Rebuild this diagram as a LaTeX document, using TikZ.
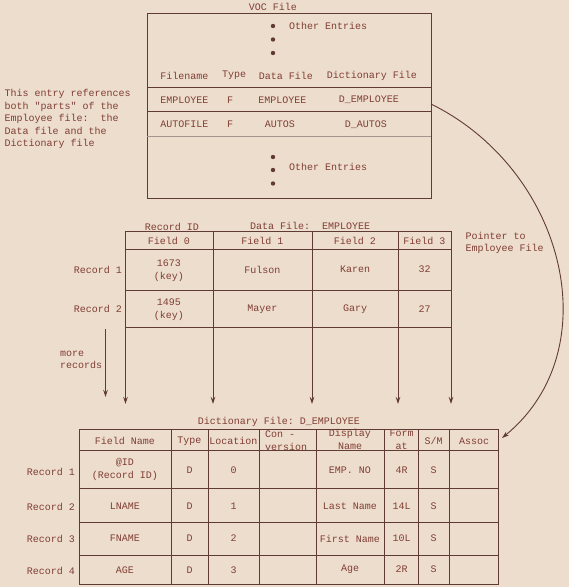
\documentclass[tikz,border=0pt]{standalone}
\usepackage{fontspec}
\setmonofont{Liberation Mono}
\usetikzlibrary{arrows.meta,positioning}
\definecolor{paper}{RGB}{237,221,205}
\definecolor{lineInk}{RGB}{96,58,52}
\definecolor{typeInk}{RGB}{128,62,52}

\begin{document}
\begin{tikzpicture}[x=1pt, y=-1pt,
  font=\ttfamily\fontsize{10}{12.5}\selectfont,
  txt/.style={text=typeInk, inner sep=1pt, align=center},
  rule/.style={draw=lineInk, line width=0.9pt},
  faint/.style={draw=lineInk!55, line width=0.8pt},
  dot/.style={circle, fill=lineInk, inner sep=0pt, minimum size=4.4pt},
  arr/.style={-{Stealth[length=7pt,width=4.5pt]}, draw=lineInk, line width=0.9pt}
]
\fill[paper] (0,0) rectangle (569,587);
\useasboundingbox (0,0) rectangle (569,587);

% VOC file
\node[txt] (vocTitle) at (273,7) {VOC File};
\draw[rule] (147,13) rectangle (431,198);
\draw[rule] (147,87) -- (431,87);
\draw[rule] (147,111) -- (431,111);
\draw[faint] (147,136) -- (431,136);
\node[dot] (dotA) at (273,26) {};
\node[dot] (dotB) at (273,39.5) {};
\node[dot] (dotC) at (273,53) {};
\node[txt, anchor=west] (otherTop) at (288,26) {Other Entries};
\node[txt] (hName) at (184.5,75.5) {Filename};
\node[txt] (hType) at (234,75.5) {Type};
\node[txt] (hData) at (286,75.5) {Data File};
\node[txt] (hDict) at (372,75.5) {Dictionary File};
\node[txt] (eName) at (184.5,100) {EMPLOYEE};
\node[txt] (eType) at (230,100) {F};
\node[txt] (eData) at (282.5,100) {EMPLOYEE};
\node[txt] (eDict) at (369,100) {D\_EMPLOYEE};
\node[txt] (aName) at (184.5,124.5) {AUTOFILE};
\node[txt] (aType) at (230,124.5) {F};
\node[txt] (aData) at (280,124.5) {AUTOS};
\node[txt] (aDict) at (366,124.5) {D\_AUTOS};
\node[dot] (dotD) at (273,157) {};
\node[dot] (dotE) at (273,170) {};
\node[dot] (dotF) at (273,183.5) {};
\node[txt, anchor=west] (otherBot) at (288,167) {Other Entries};

\node[txt, align=left, anchor=north west, inner sep=0pt] (note) at (4.5,89.5)
  {This entry references\\both "parts" of the\\Employee file:~~the\\Data file and the\\Dictionary file};

% data file
\node[txt] (recId) at (172,226.5) {Record ID};
\node[txt, anchor=west] (dataTitle) at (249,226) {Data File:~~EMPLOYEE};
\coordinate (c0) at (125.5,231);
\coordinate (c1) at (213,231);
\coordinate (c2) at (312,231);
\coordinate (c3) at (398,231);
\coordinate (c4) at (451,231);
\coordinate (t0) at (125.5,404);
\coordinate (t1) at (213,404);
\coordinate (t2) at (312,404);
\coordinate (t3) at (398,404);
\coordinate (t4) at (451,404);
\draw[rule] (c0) -- (c4);
\draw[rule] (125.5,249.5) -- (451,249.5);
\draw[rule] (125.5,290) -- (451,290);
\draw[rule] (125.5,327) -- (451,327);
\draw[arr] (c0) -- (t0);
\draw[arr] (c1) -- (t1);
\draw[arr] (c2) -- (t2);
\draw[arr] (c3) -- (t3);
\draw[arr] (c4) -- (t4);
\node[txt] (f0) at (169,241) {Field 0};
\node[txt] (f1) at (262.5,241) {Field 1};
\node[txt] (f2) at (355,241) {Field 2};
\node[txt] (f3) at (424.5,241) {Field 3};
\node[txt, anchor=east] (rec1) at (123,269.5) {Record 1};
\node[txt] (key1) at (169,270.5) {1673\\(key)};
\node[txt] (fulson) at (262.5,269.5) {Fulson};
\node[txt] (karen) at (355,269.5) {Karen};
\node[txt] (age1) at (424.5,269.5) {32};
\node[txt, anchor=east] (rec2) at (123,309) {Record 2};
\node[txt] (key2) at (169,309.5) {1495\\(key)};
\node[txt] (mayer) at (262.5,309) {Mayer};
\node[txt] (gary) at (355,309) {Gary};
\node[txt] (age2) at (424.5,309) {27};
\node[txt, align=left, anchor=north west] (ptrNote) at (464.5,231)
  {Pointer to\\Employee File};
\coordinate (moreTop) at (105.5,329);
\coordinate (moreTip) at (105.5,397);
\draw[arr] (moreTop) -- (moreTip);
\node[txt, align=left, anchor=west] (more) at (59,360) {more\\records};

% dictionary file
\node[txt] (dictTitle) at (279,421.5) {Dictionary File: D\_EMPLOYEE};
\draw[rule] (79.5,429) rectangle (498.5,584);
\foreach \yy in {450.5,488.5,522,555}
  \draw[rule] (79.5,\yy) -- (498.5,\yy);
\foreach \xx in {171,208.5,259,316,384.5,418.5,449.5}
  \draw[rule] (\xx,429) -- (\xx,584);
\node[txt] (dFn) at (125,441) {Field Name};
\node[txt] (dTy) at (189.5,441) {Type};
\node[txt, inner sep=0pt] (dLoc) at (233.5,441) {Location};
\node[txt, align=left, anchor=west] (dCon) at (264,440.5) {Con -\\version};
\node[txt] (dDn) at (350,439.5) {Display\\Name};
\node[txt] (dFm) at (401.5,439.5) {Form\\at};
\node[txt] (dSm) at (433.5,441) {S/M};
\node[txt] (dAs) at (474,441) {Assoc};

\node[txt, anchor=east] (drec1) at (76,471.5) {Record 1};
\node[txt] (id1) at (125,469.5) {@ID\\(Record ID)};
\node[txt] (ty1) at (189.5,470) {D};
\node[txt] (lo1) at (233.5,470) {0};
\node[txt] (dn1) at (350,470) {EMP. NO};
\node[txt] (fm1) at (401.5,470) {4R};
\node[txt] (sm1) at (433.5,470) {S};

\node[txt, anchor=east] (drec2) at (76,507) {Record 2};
\node[txt] (id2) at (125,506.5) {LNAME};
\node[txt] (ty2) at (189.5,506.5) {D};
\node[txt] (lo2) at (233.5,506.5) {1};
\node[txt] (dn2) at (350,506.5) {Last Name};
\node[txt] (fm2) at (401.5,506.5) {14L};
\node[txt] (sm2) at (433.5,506.5) {S};

\node[txt, anchor=east] (drec3) at (76,539) {Record 3};
\node[txt] (id3) at (125,538.5) {FNAME};
\node[txt] (ty3) at (189.5,538.5) {D};
\node[txt] (lo3) at (233.5,538.5) {2};
\node[txt] (dn3) at (350,538.5) {First Name};
\node[txt] (fm3) at (401.5,538.5) {10L};
\node[txt] (sm3) at (433.5,538.5) {S};

\node[txt, anchor=east] (drec4) at (76,570.5) {Record 4};
\node[txt] (id4) at (125,570) {AGE};
\node[txt] (ty4) at (189.5,570) {D};
\node[txt] (lo4) at (233.5,570) {3};
\node[txt] (dn4) at (350,569) {Age};
\node[txt] (fm4) at (401.5,569) {2R};
\node[txt] (sm4) at (433.5,569) {S};

% pointer from VOC entry to dictionary
\coordinate (ptrFrom) at (431,104);
\coordinate (ptrTo) at (502,438);
\draw[arr] (ptrFrom) .. controls (565,170) and (610,350) .. (ptrTo);
\end{tikzpicture}
\end{document}
